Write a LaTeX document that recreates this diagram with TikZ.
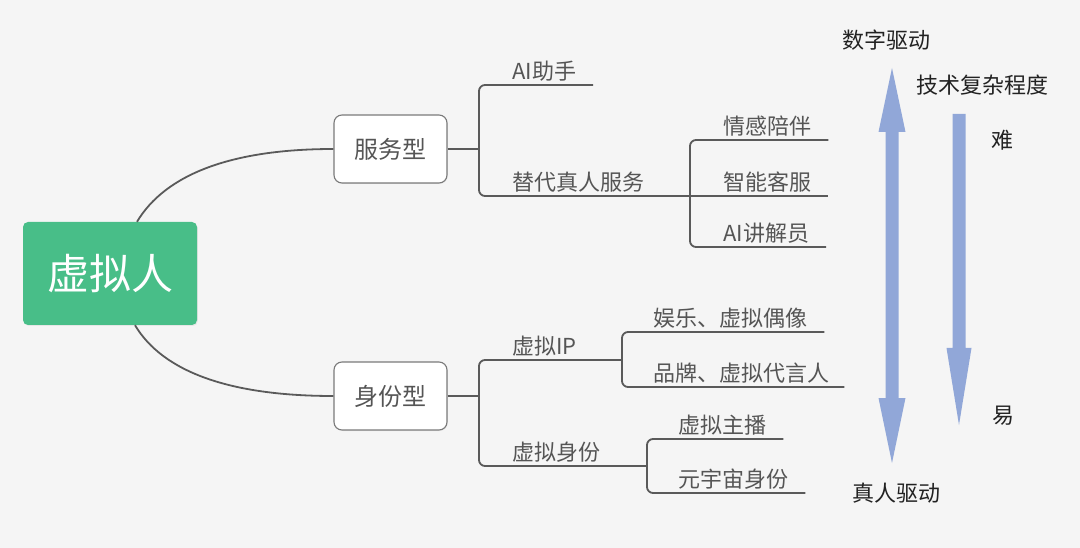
\documentclass[tikz,border=0pt]{standalone}
\usepackage{fontspec}
\setmainfont{Noto Sans CJK SC}
\usetikzlibrary{calc,shadows}
\definecolor{bg}{HTML}{F5F5F5}
\definecolor{rootgreen}{HTML}{48BE88}
\definecolor{linegray}{HTML}{5A5A5A}
\definecolor{txtgray}{HTML}{555555}
\definecolor{boxgray}{HTML}{7A7A7A}
\definecolor{notetxt}{HTML}{222222}
\definecolor{arrowblue}{HTML}{91A7D8}
\begin{document}
\begin{tikzpicture}[x=1pt,y=-1pt,
  rootbox/.style={fill=rootgreen, rounded corners=5pt, minimum width=174pt, minimum height=103pt,
    text=white, font=\fontsize{42pt}{48pt}\selectfont, inner sep=0pt,
    drop shadow={opacity=0.12, shadow xshift=0.8pt, shadow yshift=-1pt}},
  catbox/.style={draw=boxgray, line width=1.1pt, fill=white, rounded corners=8pt,
    minimum width=113pt, minimum height=68pt, text=txtgray,
    font=\fontsize{24pt}{28pt}\selectfont, inner sep=0pt,
    drop shadow={opacity=0.10, shadow xshift=0.8pt, shadow yshift=-1pt}},
  leaf/.style={anchor=west, inner sep=0pt, text=txtgray, font=\fontsize{22pt}{26pt}\selectfont},
  note/.style={inner sep=0pt, text=notetxt, font=\fontsize{22pt}{26pt}\selectfont},
  curveline/.style={draw=linegray, line width=1.8pt},
  br/.style={draw=linegray, line width=1.8pt, rounded corners=6pt},
  bigarrow/.style={fill=arrowblue}
]
\useasboundingbox (0,0) rectangle (1080,548);
\fill[bg] (0,0) rectangle (1080,548);

% main nodes
\node[rootbox] (root) at (110,273.5) {虚拟人};
\node[catbox] (fw) at (390.5,149) {服务型};
\node[catbox] (sf) at (390.5,396) {身份型};

% curves root -> categories
\draw[curveline] ([xshift=27pt]root.north) .. controls (165,175) and (230,149) .. (fw.west);
\draw[curveline] ([xshift=25pt]root.south) .. controls (163,372) and (230,396) .. (sf.west);

% leaf texts (placed 14 above their underline)
\node[leaf] (ai)  at (512,71)  {AI助手};
\node[leaf] (td)  at (512,182) {替代真人服务};
\node[leaf] (qg)  at (723,126) {情感陪伴};
\node[leaf] (zn)  at (723,182) {智能客服};
\node[leaf] (js)  at (723,233) {AI讲解员};
\node[leaf] (xip) at (512,346) {虚拟IP};
\node[leaf] (xsf) at (512,452) {虚拟身份};
\node[leaf] (yl)  at (653,318) {娱乐、虚拟偶像};
\node[leaf] (pp)  at (653,373) {品牌、虚拟代言人};
\node[leaf] (zb)  at (678,425) {虚拟主播};
\node[leaf] (yy)  at (678,479) {元宇宙身份};

% joints
\coordinate (j1) at (479,149);
\coordinate (j2) at (690,196);
\coordinate (j3) at (479,396);
\coordinate (j4) at (622,360);
\coordinate (j5) at (647,466);

% service branch
\draw[br] (fw.east) -- (j1);
\draw[br] (j1) |- ($(ai.east)+(17,14)$);
\draw[br] (j1) |- (j2);
\draw[br] (j2) |- ($(qg.east)+(17,14)$);
\draw[br] (j2) -- ($(zn.east)+(17,14)$);
\draw[br] (j2) |- ($(js.east)+(17,14)$);

% identity branch
\draw[br] (sf.east) -- (j3);
\draw[br] (j3) |- (j4);
\draw[br] (j3) |- (j5);
\draw[br] (j4) |- ($(yl.east)+(17,14)$);
\draw[br] (j4) |- ($(pp.east)+(15,14)$);
\draw[br] (j5) |- ($(zb.east)+(17,14)$);
\draw[br] (j5) |- ($(yy.east)+(17,14)$);

% right side notes
\node[note] (sz) at (886,40) {数字驱动};
\node[note] (zr) at (896,493) {真人驱动};
\node[note] (js2) at (982,85) {技术复杂程度};
\node[note] (nan) at (1002,140) {难};
\node[note] (yi) at (1003,416) {易};

% double arrow
\fill[bigarrow] (892,68) -- (905.5,132) -- (898.5,132) -- (898.5,398) -- (905.5,398) -- (892,463)
  -- (878.5,398) -- (885.5,398) -- (885.5,132) -- (878.5,132) -- cycle;
% down arrow
\fill[bigarrow] (952.5,114) -- (965.5,114) -- (965.5,348) -- (971.5,348) -- (959,425)
  -- (946.5,348) -- (952.5,348) -- cycle;
\end{tikzpicture}
\end{document}
